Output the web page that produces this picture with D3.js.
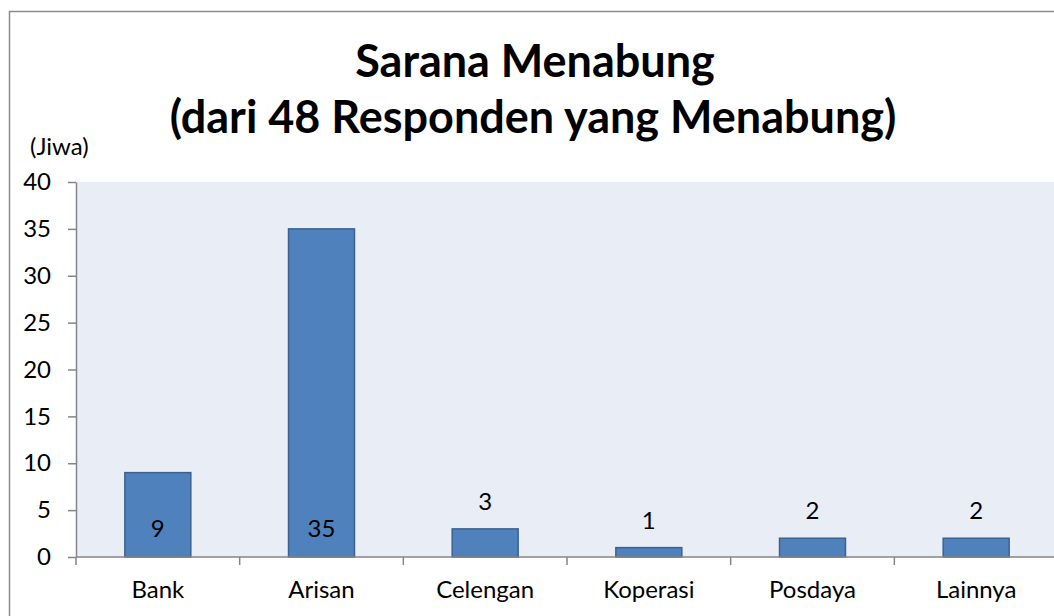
<!DOCTYPE html>
<html>
<head>
<meta charset="utf-8">
<script src="https://cdn.jsdelivr.net/npm/d3@7"></script>
<style>
  body { margin: 0; background: #fff; }
  svg { display: block; font-family: Lato, "Open Sans", sans-serif; }
</style>
</head>
<body>
<svg id="chart" width="1054" height="616"></svg>
<script>
// data
var categories = ["Bank", "Arisan", "Celengan", "Koperasi", "Posdaya", "Lainnya"];
var values = [9, 35, 3, 1, 2, 2];
var yTicks = [0, 5, 10, 15, 20, 25, 30, 35, 40];
var titleLines = ["Sarana Menabung", "(dari 48 Responden yang Menabung)"];
var unitLabel = "(Jiwa)";

var svg = d3.select("#chart");
var plot = { left: 76, right: 1058, top: 182, bottom: 557 };
var axisColor = "#868686";
var labelSize = "24px";

// outer chart border (runs off the right/bottom of the picture)
svg.append("rect")
  .attr("x", 9.5).attr("y", 11.5)
  .attr("width", 1100).attr("height", 700)
  .attr("fill", "#fff")
  .attr("stroke", "#8c8c8c")
  .attr("stroke-width", 1.5);

// plot background
svg.append("rect")
  .attr("x", plot.left).attr("y", plot.top)
  .attr("width", plot.right - plot.left)
  .attr("height", plot.bottom - plot.top)
  .attr("fill", "#e9edf5");

var y = d3.scaleLinear().domain([0, 40]).range([plot.bottom, plot.top]);
var x = d3.scaleBand()
  .domain(categories)
  .range([plot.left, plot.right])
  .paddingInner(0.597)
  .paddingOuter(0.597 / 2);

// y axis
var yAxis = svg.append("g")
  .attr("transform", "translate(" + plot.left + ",0)")
  .call(d3.axisLeft(y).tickValues(yTicks).tickSize(8).tickSizeOuter(0).tickPadding(17));
yAxis.selectAll("path, line").attr("stroke", axisColor).attr("stroke-width", 1.5);
yAxis.selectAll("text")
  .attr("fill", "#000")
  .style("font-size", labelSize)
  .style("font-family", "Lato, sans-serif");

// bars
svg.selectAll("rect.bar")
  .data(values)
  .enter().append("rect")
  .attr("class", "bar")
  .attr("x", (d, i) => x(categories[i]))
  .attr("y", d => y(d))
  .attr("width", x.bandwidth())
  .attr("height", d => y(0) - y(d))
  .attr("fill", "#4f81bd")
  .attr("stroke", "#3c6190")
  .attr("stroke-width", 1.5);

// x axis line + ticks between categories
svg.append("line")
  .attr("x1", plot.left).attr("x2", plot.right)
  .attr("y1", plot.bottom).attr("y2", plot.bottom)
  .attr("stroke", axisColor).attr("stroke-width", 1.5);

var step = x.step();
svg.selectAll("line.xtick")
  .data(d3.range(categories.length + 1))
  .enter().append("line")
  .attr("class", "xtick")
  .attr("x1", i => plot.left + i * step).attr("x2", i => plot.left + i * step)
  .attr("y1", plot.bottom).attr("y2", plot.bottom + 8)
  .attr("stroke", axisColor).attr("stroke-width", 1.5);

svg.selectAll("text.cat")
  .data(categories)
  .enter().append("text")
  .attr("class", "cat")
  .attr("x", d => x(d) + x.bandwidth() / 2)
  .attr("y", 598)
  .attr("text-anchor", "middle")
  .style("font-size", labelSize)
  .text(d => d);

// data labels: inside at the base for tall bars, above for short ones
svg.selectAll("text.val")
  .data(values)
  .enter().append("text")
  .attr("class", "val")
  .attr("x", (d, i) => x(categories[i]) + x.bandwidth() / 2)
  .attr("y", d => d >= 5 ? y(0) - 20 : y(d) - 19)
  .attr("text-anchor", "middle")
  .style("font-size", labelSize)
  .text(d => d);

// unit label
svg.append("text")
  .attr("x", 30).attr("y", 155)
  .style("font-size", labelSize)
  .text(unitLabel);

// title, two lines; size fitted so the long line spans the same width
var title = svg.append("g")
  .style("font-weight", "bold")
  .attr("text-anchor", "middle");
var t2 = title.append("text").attr("x", 533).attr("y", 133)
  .style("font-size", "40px").text(titleLines[1]);
var fs = 40 * 727 / t2.node().getComputedTextLength();
t2.style("font-size", fs + "px");
title.append("text").attr("x", 535).attr("y", 77)
  .style("font-size", fs + "px").text(titleLines[0]);
</script>
</body>
</html>
